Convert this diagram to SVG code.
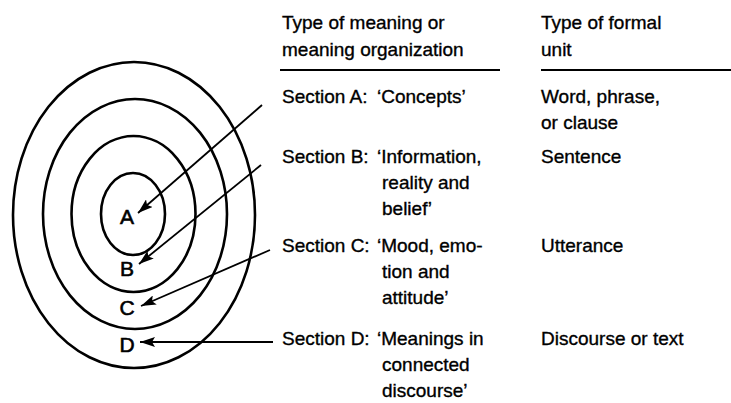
<svg xmlns="http://www.w3.org/2000/svg" width="731" height="403" viewBox="0 0 731 403">
<style>
text{font-family:"Liberation Sans",Arial,sans-serif;fill:#000;stroke:#000;stroke-width:0.35}
.t{font-size:19px}
.l{font-size:21px;text-anchor:middle;stroke-width:0.6}
.ring{fill:none;stroke:#000;stroke-width:2.6}
.rule{stroke:#000;stroke-width:2}
.arr{stroke:#000;stroke-width:1.8;fill:none;marker-end:url(#ah)}
</style>
<defs>
<marker id="ah" viewBox="0 0 15 10" refX="15" refY="5" markerWidth="15" markerHeight="10" markerUnits="userSpaceOnUse" orient="auto">
<path d="M0,0 L15,5 L0,10 L3,5 Z" fill="#000"/>
</marker>
</defs>
<g id="rings">
<ellipse class="ring" cx="134" cy="215" rx="121" ry="153"/>
<ellipse class="ring" cx="135" cy="214" rx="92" ry="115"/>
<ellipse class="ring" cx="133.5" cy="214" rx="62" ry="78"/>
<ellipse class="ring" cx="133" cy="214" rx="32" ry="41"/>
</g>
<g id="ring-labels">
<text class="l" x="127" y="224">A</text>
<text class="l" x="127" y="276">B</text>
<text class="l" x="127" y="315">C</text>
<text class="l" x="127" y="352">D</text>
</g>
<g id="connectors">
<path class="arr" d="M262,105 L138,213"/>
<path class="arr" d="M261,165 L139,264"/>
<path class="arr" d="M270,250 L141,306"/>
<path class="arr" d="M273,342 L140,342"/>
</g>
<g id="header">
<text class="t" x="282" y="29">Type of meaning or</text>
<text class="t" x="282" y="56">meaning organization</text>
<line class="rule" x1="280" y1="70" x2="500" y2="70"/>
<text class="t" x="541" y="29">Type of formal</text>
<text class="t" x="541" y="56">unit</text>
<line class="rule" x1="541" y1="70" x2="731" y2="70"/>
</g>
<g id="sectionA">
<text class="t" x="282" y="103">Section A:</text>
<text class="t" x="377" y="103">‘Concepts’</text>
<text class="t" x="541" y="103">Word, phrase,</text>
<text class="t" x="541" y="129">or clause</text>
</g>
<g id="sectionB">
<text class="t" x="282" y="163">Section B:</text>
<text class="t" x="377" y="163">‘Information,</text>
<text class="t" x="382" y="189">reality and</text>
<text class="t" x="382" y="215">belief’</text>
<text class="t" x="541" y="163">Sentence</text>
</g>
<g id="sectionC">
<text class="t" x="282" y="252">Section C:</text>
<text class="t" x="377" y="252">‘Mood, emo-</text>
<text class="t" x="382" y="278">tion and</text>
<text class="t" x="382" y="304">attitude’</text>
<text class="t" x="541" y="252">Utterance</text>
</g>
<g id="sectionD">
<text class="t" x="282" y="345">Section D:</text>
<text class="t" x="377" y="345">‘Meanings in</text>
<text class="t" x="382" y="371">connected</text>
<text class="t" x="382" y="397">discourse’</text>
<text class="t" x="541" y="345">Discourse or text</text>
</g>
</svg>
